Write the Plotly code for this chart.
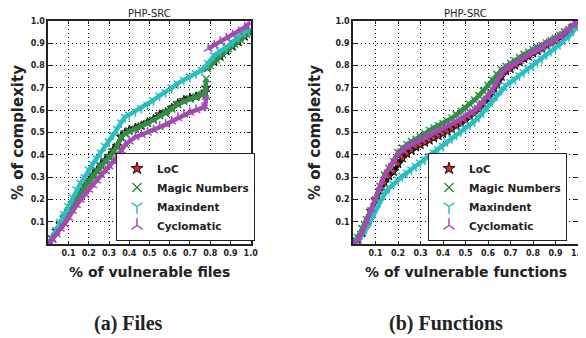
import plotly.graph_objects as go

# ---------------- data ----------------
series_names = ["LoC", "Magic Numbers", "Maxindent", "Cyclomatic"]
tick_vals = [0.1, 0.2, 0.3, 0.4, 0.5, 0.6, 0.7, 0.8, 0.9, 1.0]
tick_labels = ["0.1", "0.2", "0.3", "0.4", "0.5", "0.6", "0.7", "0.8", "0.9", "1.0"]

# Panel (a): files  (None = gap in the curve)
files_loc_x = [0, 0.02, 0.04, 0.06, 0.08, 0.10, 0.12, 0.14, 0.16, 0.18, 0.20, 0.22, 0.24, 0.26, 0.28, 0.30,
               0.32, 0.34, 0.36, 0.38, 0.40, 0.43, 0.46, 0.49, 0.52, 0.55, 0.58, 0.61, 0.64, 0.67, 0.70,
               0.73, 0.76, 0.775, 0.78, None, 0.785, 0.82, 0.85, 0.88, 0.91, 0.94, 0.97, 0.99]
files_loc_y = [0, 0.03, 0.06, 0.09, 0.12, 0.15, 0.18, 0.20, 0.23, 0.26, 0.285, 0.31, 0.33, 0.355, 0.375, 0.395,
               0.42, 0.44, 0.48, 0.50, 0.51, 0.52, 0.53, 0.545, 0.56, 0.58, 0.59, 0.61, 0.63, 0.645, 0.655,
               0.66, 0.67, 0.68, 0.70, None, 0.79, 0.815, 0.84, 0.865, 0.885, 0.905, 0.93, 0.95]

files_magic_x = [0, 0.02, 0.04, 0.06, 0.08, 0.10, 0.12, 0.14, 0.16, 0.18, 0.20, 0.22, 0.24, 0.26, 0.28, 0.30,
                 0.32, 0.34, 0.36, 0.38, 0.40, 0.43, 0.46, 0.49, 0.52, 0.55, 0.58, 0.61, 0.64, 0.67, 0.70,
                 0.73, 0.76, 0.775, 0.78, None, 0.785, 0.80, 0.83, 0.86, 0.89, 0.92, 0.95, 0.98, 1.0]
files_magic_y = [0, 0.025, 0.06, 0.085, 0.12, 0.15, 0.175, 0.20, 0.23, 0.255, 0.28, 0.305, 0.33, 0.35, 0.37, 0.39,
                 0.41, 0.44, 0.48, 0.495, 0.505, 0.515, 0.53, 0.54, 0.555, 0.575, 0.59, 0.605, 0.625, 0.64, 0.65,
                 0.66, 0.67, 0.675, 0.74, None, 0.785, 0.80, 0.825, 0.85, 0.875, 0.895, 0.915, 0.94, 0.955]

files_maxind_x = [0, 0.02, 0.04, 0.06, 0.08, 0.10, 0.12, 0.14, 0.16, 0.18, 0.20, 0.22, 0.24, 0.26, 0.28, 0.30,
                  0.32, 0.34, 0.36, 0.38, 0.40, 0.43, 0.46, 0.49, 0.52, 0.55, 0.58, 0.61, 0.64, 0.67, 0.70,
                  0.73, 0.76, 0.79, 0.82, 0.85, 0.88, 0.91, 0.94, 0.97, 0.99]
files_maxind_y = [0, 0.03, 0.065, 0.10, 0.135, 0.17, 0.21, 0.245, 0.275, 0.30, 0.335, 0.36, 0.385, 0.41, 0.44, 0.46,
                  0.49, 0.515, 0.545, 0.57, 0.58, 0.595, 0.61, 0.625, 0.645, 0.665, 0.68, 0.70, 0.72, 0.735, 0.75,
                  0.765, 0.78, 0.81, 0.845, 0.865, 0.88, 0.905, 0.93, 0.95, 0.96]

files_cyclo_x = [0, 0.02, 0.04, 0.06, 0.08, 0.10, 0.12, 0.14, 0.16, 0.18, 0.20, 0.22, 0.24, 0.26, 0.28, 0.30,
                 0.32, 0.34, 0.36, 0.38, 0.40, 0.43, 0.46, 0.49, 0.52, 0.55, 0.58, 0.61, 0.64, 0.67, 0.70,
                 0.73, 0.76, 0.775, 0.78, None, 0.79, 0.82, 0.85, 0.88, 0.91, 0.94, 0.97, 0.995]
files_cyclo_y = [0, 0.02, 0.045, 0.07, 0.09, 0.12, 0.15, 0.175, 0.20, 0.225, 0.245, 0.265, 0.285, 0.31, 0.33, 0.35,
                 0.37, 0.39, 0.42, 0.445, 0.46, 0.48, 0.49, 0.50, 0.51, 0.525, 0.535, 0.55, 0.565, 0.58, 0.59,
                 0.60, 0.61, 0.615, 0.66, None, 0.875, 0.89, 0.905, 0.92, 0.935, 0.95, 0.97, 0.99]

# Panel (b): functions
func_x = [0, 0.02, 0.04, 0.06, 0.08, 0.10, 0.12, 0.14, 0.16, 0.18, 0.20, 0.22, 0.24, 0.26, 0.28, 0.30,
          0.32, 0.34, 0.36, 0.38, 0.40, 0.42, 0.44, 0.46, 0.48, 0.50, 0.52, 0.54, 0.56, 0.58, 0.60,
          0.62, 0.64, 0.66, 0.68, 0.70, 0.72, 0.74, 0.76, 0.78, 0.80, 0.82, 0.84, 0.86, 0.88, 0.90,
          0.92, 0.94, 0.96, 0.98, 1.0]
func_loc_y = [0, 0.02, 0.05, 0.09, 0.15, 0.20, 0.24, 0.275, 0.305, 0.325, 0.36, 0.385, 0.405, 0.42, 0.435, 0.445,
              0.455, 0.465, 0.475, 0.485, 0.495, 0.505, 0.515, 0.53, 0.54, 0.555, 0.57, 0.585, 0.605, 0.63, 0.655,
              0.68, 0.715, 0.75, 0.775, 0.785, 0.80, 0.815, 0.83, 0.84, 0.855, 0.865, 0.875, 0.89, 0.90, 0.91,
              0.925, 0.94, 0.955, 0.975, 0.99]
func_magic_y = [0, 0.03, 0.07, 0.11, 0.15, 0.20, 0.26, 0.31, 0.34, 0.37, 0.41, 0.43, 0.445, 0.46, 0.47, 0.48,
                0.495, 0.51, 0.52, 0.53, 0.54, 0.55, 0.565, 0.58, 0.595, 0.61, 0.625, 0.645, 0.665, 0.685, 0.71,
                0.735, 0.76, 0.78, 0.795, 0.81, 0.82, 0.835, 0.85, 0.86, 0.87, 0.88, 0.89, 0.90, 0.91, 0.92,
                0.935, 0.95, 0.96, 0.975, 0.985]
func_maxind_y = [0, 0.02, 0.045, 0.07, 0.11, 0.155, 0.19, 0.225, 0.25, 0.27, 0.29, 0.305, 0.32, 0.335, 0.35, 0.365,
                 0.38, 0.395, 0.41, 0.425, 0.44, 0.46, 0.475, 0.49, 0.505, 0.52, 0.535, 0.55, 0.57, 0.59, 0.615,
                 0.64, 0.665, 0.69, 0.71, 0.725, 0.74, 0.755, 0.77, 0.785, 0.80, 0.815, 0.83, 0.85, 0.865, 0.88,
                 0.895, 0.915, 0.93, 0.955, 0.98]
func_cyclo_y = [0, 0.02, 0.05, 0.10, 0.16, 0.21, 0.26, 0.31, 0.34, 0.37, 0.405, 0.42, 0.435, 0.445, 0.455, 0.465,
                0.475, 0.485, 0.495, 0.505, 0.515, 0.53, 0.54, 0.55, 0.56, 0.575, 0.585, 0.60, 0.62, 0.64, 0.665,
                0.69, 0.73, 0.765, 0.785, 0.795, 0.805, 0.82, 0.835, 0.845, 0.86, 0.87, 0.88, 0.895, 0.905, 0.915,
                0.93, 0.945, 0.96, 0.98, 0.995]

# ---------------- styles ----------------
colors = ["#111111", "#2e9144", "#2bbfbf", "#a34bb0"]
symbols = ["star", "x-thin-open", "y-down-open", "y-up-open"]
marker_fill = ["#d42a2a", "#2e9144", "#2bbfbf", "#a34bb0"]

# The page body has a default 8px margin, so the figure is drawn 8px in
# from the window's corner; positions below are window pixels.
PAGE = 8
WIN_W, WIN_H = 586, 338
W, H = WIN_W - PAGE, WIN_H - PAGE


def px(xw):
    return (xw - PAGE) / W


def py(yw):
    return 1 - (yw - PAGE) / H


panels = [
    dict(xd=(48.3, 250.7), title="PHP-SRC", xlabel="% of vulnerable files", caption="(a) Files",
         cap_x=128.5, ylab_x=18, legend="legend",
         series=[(files_loc_x, files_loc_y), (files_magic_x, files_magic_y),
                 (files_maxind_x, files_maxind_y), (files_cyclo_x, files_cyclo_y)],
         leg_x=116),
    dict(xd=(353, 578), title="PHP-SRC", xlabel="% of vulnerable functions", caption="(b) Functions",
         cap_x=446, ylab_x=315, legend="legend2",
         series=[(func_x, func_loc_y), (func_x, func_magic_y),
                 (func_x, func_maxind_y), (func_x, func_cyclo_y)],
         leg_x=428),
]
y_top, y_bot = 20.7, 244.3

fig = go.Figure()
annotations = []
layout = {}
for i, p in enumerate(panels):
    ax = "" if i == 0 else str(i + 1)
    xref, yref = "x" + ax, "y" + ax
    for k, (xs, ys) in enumerate(p["series"]):
        mk = dict(symbol=symbols[k], size=7, color=marker_fill[k],
                  line=dict(color=colors[k], width=1 if k == 0 else 1.5))
        fig.add_trace(go.Scatter(
            x=xs, y=ys, mode="lines+markers", xaxis=xref, yaxis=yref,
            line=dict(color=colors[k], width=4.5), marker=mk,
            showlegend=False, connectgaps=False, hoverinfo="skip"))
    for k in range(4):
        mk = dict(symbol=symbols[k], size=9, color=marker_fill[k],
                  line=dict(color=colors[k], width=1 if k == 0 else 1.5))
        fig.add_trace(go.Scatter(
            x=[None], y=[None], mode="markers", xaxis=xref, yaxis=yref, marker=mk,
            name=series_names[k], legend=p["legend"], showlegend=True))
    axis_common = dict(range=[0, 1], tickvals=tick_vals, ticktext=tick_labels,
                       ticks="inside", ticklen=4, tickcolor="#222", showline=True,
                       linecolor="#222", linewidth=1.5, mirror="ticks",
                       showgrid=True, gridcolor="#000", gridwidth=1, griddash="1px,3px",
                       zeroline=False, automargin=False,
                       tickfont=dict(family="DejaVu Sans", size=8, color="#222", weight="bold"))
    layout["xaxis" + ax] = dict(axis_common, domain=[px(p["xd"][0]), px(p["xd"][1])],
                                anchor=yref)
    layout["yaxis" + ax] = dict(axis_common, domain=[py(y_bot), py(y_top)],
                                anchor=xref)
    layout[p["legend"]] = dict(x=px(p["leg_x"]), y=py(241), xanchor="left", yanchor="bottom",
                               bgcolor="white", bordercolor="#222", borderwidth=1,
                               font=dict(family="DejaVu Sans", size=10.5, color="#222", weight="bold"),
                               tracegroupgap=0)
    cx = (p["xd"][0] + p["xd"][1]) / 2
    common_ann = dict(xref="paper", yref="paper", showarrow=False, xanchor="center", yanchor="middle")
    annotations += [
        dict(common_ann, text=p["title"], x=px(cx), y=py(13.5),
             font=dict(family="DejaVu Sans", size=10, color="#222")),
        dict(common_ann, text=p["xlabel"], x=px(cx), y=py(272),
             font=dict(family="DejaVu Sans", size=14, color="#222", weight="bold")),
        dict(common_ann, text="% of complexity", x=px(p["ylab_x"]), y=py(133), textangle=-90,
             font=dict(family="DejaVu Sans", size=15, color="#222", weight="bold")),
        dict(common_ann, text=p["caption"], x=px(p["cap_x"]), y=py(323),
             font=dict(family="Liberation Serif", size=20, color="#222", weight="bold")),
    ]

fig.update_layout(width=W, height=H, margin=dict(l=0, r=0, t=0, b=0),
                  paper_bgcolor="white", plot_bgcolor="white",
                  annotations=annotations, **layout)
fig.write_html("out.html")
